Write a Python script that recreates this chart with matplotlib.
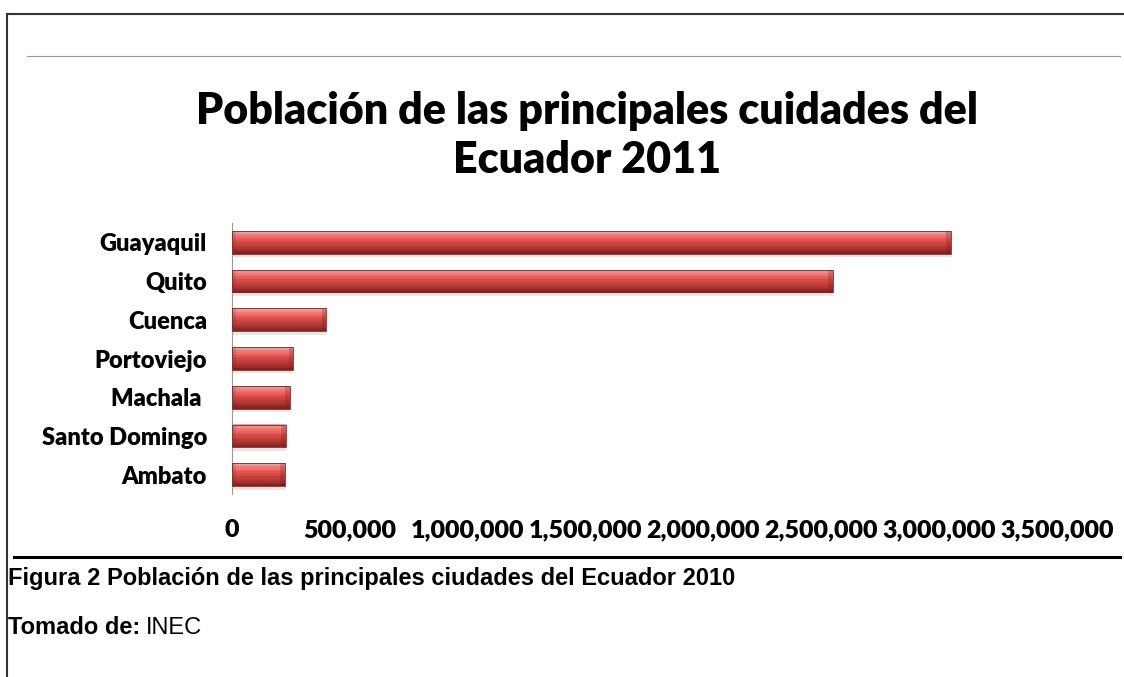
import numpy as np
import matplotlib
matplotlib.use('Agg')
import matplotlib.pyplot as plt
from matplotlib.lines import Line2D
from matplotlib.ticker import FuncFormatter
from matplotlib.colors import LinearSegmentedColormap

# poblacion por ciudad (INEC)
ciudades = ['Guayaquil', 'Quito', 'Cuenca', 'Portoviejo', 'Machala ', 'Santo Domingo', 'Ambato']
poblacion = [3050000, 2550000, 400000, 260000, 245000, 230000, 225000]
ticks_x = [0, 500000, 1000000, 1500000, 2000000, 2500000, 3000000, 3500000]

titulo = 'Población de las principales cuidades del\nEcuador 2011'
pie = 'Figura 2 Población de las principales ciudades del Ecuador 2010'

fig = plt.figure(figsize=(11.24, 6.77), dpi=100)
ax = fig.add_axes([0.2064, 0.2703, 0.734, 0.4003])

pos = np.arange(len(ciudades))
alto = 0.59

# sombra debajo de cada barra
ax.barh(pos + 0.09, poblacion, height=alto, color='#bdbdbd', alpha=0.35, zorder=1)

# degradado vertical de la barra, en franjas
degradado = LinearSegmentedColormap.from_list(
    'rojo', ['#eaa4a2', '#f47a77', '#ee6663', '#d94f4c', '#c94340', '#b93a37', '#a2302d', '#7c2321'])
n = 14
for k in range(n):
    off = -alto / 2 + (k + 0.5) * alto / n
    ax.barh(pos + off, poblacion, height=alto / n * 1.05, color=degradado(k / (n - 1)),
            linewidth=0, zorder=2)

# borde y extremo biselado
ax.barh(pos, poblacion, height=alto, fill=False, edgecolor='#7a2624', linewidth=0.6, zorder=3)
ax.barh(pos, 20000, left=[v - 20000 for v in poblacion], height=alto,
        color='#6e1f1d', alpha=0.25, linewidth=0, zorder=3)
ax.barh(pos, 15000, left=0, height=alto, color='#6e1f1d', alpha=0.15, linewidth=0, zorder=3)

ax.set_xlim(0, 3500000)
ax.set_ylim(len(ciudades) - 0.5, -0.5)
ax.set_yticks(pos)
ax.set_yticklabels(ciudades)
ax.set_xticks(ticks_x)
ax.xaxis.set_major_formatter(FuncFormatter(lambda x, p: f'{x:,.0f}'))

for s in ['top', 'right', 'bottom']:
    ax.spines[s].set_visible(False)
ax.spines['left'].set_color('#9a9a9a')
ax.spines['left'].set_linewidth(0.8)
ax.tick_params(axis='both', length=0)
ax.tick_params(axis='y', pad=18, labelsize=17)
ax.tick_params(axis='x', pad=18, labelsize=18)
for lab in ax.get_xticklabels() + ax.get_yticklabels():
    lab.set_fontfamily('Lato')
    lab.set_fontweight('heavy')

fig.text(0.522, 0.800, titulo, ha='center', va='center', fontsize=31,
         fontfamily='Lato', fontweight='heavy', linespacing=1.25)

# marco y lineas del documento
fig.add_artist(Line2D([0.0062, 1.0], [0.9793, 0.9793], color='#333333', lw=1.5))
fig.add_artist(Line2D([0.0062, 0.0062], [0.0, 0.9793], color='#333333', lw=1.5))
fig.add_artist(Line2D([0.024, 0.9964], [0.9173, 0.9173], color='#9a9a9a', lw=0.8))
fig.add_artist(Line2D([0.0125, 0.9964], [0.1773, 0.1773], color='black', lw=2.2))

fig.text(0.0075, 0.1462, pie, ha='left', va='center', fontsize=17,
         fontfamily='Liberation Sans', fontweight='bold')
t1 = fig.text(0.0075, 0.0724, 'Tomado de:', ha='left', va='center', fontsize=17,
              fontfamily='Liberation Sans', fontweight='bold')
fig.add_artist(plt.Annotation('INEC', xy=(1, 0), xycoords=t1, xytext=(4, 0),
                              textcoords='offset points', ha='left', va='bottom',
                              fontsize=17, fontfamily='Liberation Sans'))

fig.savefig('out.png', dpi=100)
